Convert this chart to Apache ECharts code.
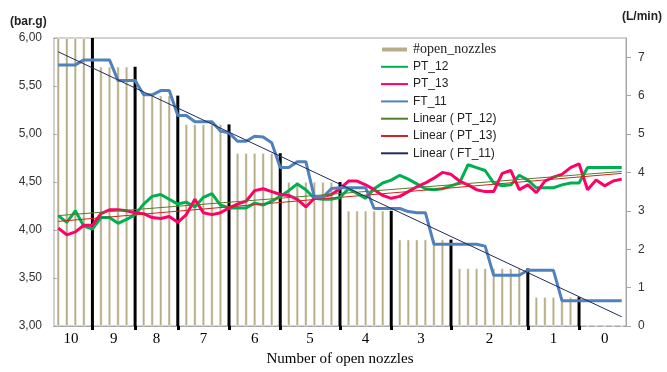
<!DOCTYPE html>
<html>
<head>
<meta charset="utf-8">
<script src="https://cdn.jsdelivr.net/npm/echarts@6/dist/echarts.min.js"></script>
<style>
  html, body { margin: 0; padding: 0; background: #fff; }
  #chart { width: 667px; height: 372px; }
</style>
</head>
<body>
<div id="chart"></div>
<script>
// number of open nozzles per sample (last sample of a run = separator line)
var nozzles = [10,10,10,10,10, 9,9,9,9,9, 8,8,8,8,8, 7,7,7,7,7,7, 6,6,6,6,6,6,
  5,5,5,5,5,5,5, 4,4,4,4,4,4, 3,3,3,3,3,3,3, 2,2,2,2,2,2,2,2,2, 1,1,1,1,1,1, 0,0,0,0,0];

// pressures (bar.g)
var pt12 = [4.15,4.08,4.20,4.04,4.01,4.13,4.13,4.07,4.11,4.16,
  4.27,4.35,4.37,4.32,4.27,4.29,4.24,4.34,4.38,4.26,
  4.23,4.23,4.23,4.28,4.26,4.30,4.35,4.41,4.48,4.42,
  4.33,4.32,4.32,4.34,4.43,4.38,4.33,4.43,4.49,4.52,
  4.57,4.53,4.48,4.43,4.42,4.43,4.46,4.49,4.68,4.65,
  4.62,4.49,4.46,4.47,4.57,4.52,4.44,4.44,4.44,4.47,
  4.49,4.49,4.65,4.65,4.65,4.65,4.65];
var pt13 = [4.02,3.95,3.98,4.05,4.05,4.17,4.21,4.21,4.20,4.18,
  4.17,4.13,4.12,4.14,4.08,4.16,4.32,4.18,4.16,4.18,
  4.23,4.27,4.30,4.41,4.43,4.40,4.37,4.36,4.32,4.24,
  4.33,4.35,4.37,4.43,4.51,4.51,4.47,4.42,4.36,4.33,
  4.35,4.40,4.45,4.49,4.54,4.60,4.58,4.51,4.47,4.42,
  4.40,4.40,4.59,4.62,4.42,4.47,4.39,4.51,4.55,4.58,
  4.65,4.69,4.42,4.52,4.46,4.51,4.53];
// flow (L/min)
var ft11 = [6.80,6.80,6.80,6.93,6.93,6.93,6.93,6.39,6.39,6.39,
  6.02,6.02,6.13,6.13,5.48,5.48,5.32,5.32,5.32,5.08,
  5.03,4.81,4.81,4.94,4.92,4.77,4.13,4.13,4.28,4.28,
  3.35,3.35,3.58,3.60,3.60,3.60,3.60,3.06,3.06,3.06,
  3.06,2.98,2.95,2.95,2.13,2.13,2.13,2.13,2.13,2.13,
  2.08,1.32,1.32,1.32,1.32,1.45,1.45,1.45,1.45,0.66,
  0.66,0.66,0.66,0.66,0.66,0.66,0.66];

// trend line ends (first / last sample)
var trendPt12 = [4.15, 4.61];
var trendPt13 = [4.09, 4.59];
var trendFt11 = [7.14, 0.24];

var groupLabels = ['10','9','8','7','6','5','4','3','2','1','0'];
var flowTicks = [0,1,2,3,4,5,6,7];

var last = nozzles.length - 1;
function isSep(i) { return i < last && nozzles[i + 1] !== nozzles[i]; }

var sepIdx = [];
nozzles.forEach(function (v, i) { if (isSep(i)) sepIdx.push(i); });

// centre of each run of plain bars -> where the group label goes
var labelPos = [];
var start = 0;
for (var i = 0; i <= last; i++) {
  if (isSep(i) || i === last) {
    var end = isSep(i) ? i - 1 : i;
    labelPos.push((start + end) / 2);
    start = i + 1;
  }
}

var plainBars = nozzles.map(function (v, i) { return isSep(i) ? '-' : v; });
var sepBars = nozzles.map(function (v, i) { return isSep(i) ? v : '-'; });

function trend(ends) { return [[0, ends[0]], [last, ends[1]]]; }

var sans = 'Liberation Sans';
var serif = 'Liberation Serif';
var noDot = { opacity: 0 };

var chart = echarts.init(document.getElementById('chart'));
chart.setOption({
  animation: false,
  grid: { left: 54, right: 41, top: 38, bottom: 40, show: true, borderColor: '#a6a6a6', borderWidth: 1 },
  legend: {
    orient: 'vertical',
    left: 380,
    top: 41,
    padding: 0,
    itemWidth: 27,
    itemHeight: 6,
    itemGap: 0.3,
    textStyle: { fontFamily: sans, fontSize: 12, color: '#222', lineHeight: 17 },
    data: [
      { name: '#open_nozzles', textStyle: { fontFamily: serif, fontSize: 14 } },
      { name: 'PT_12', itemStyle: noDot },
      { name: 'PT_13', itemStyle: noDot },
      { name: 'FT_11', itemStyle: noDot },
      { name: 'Linear ( PT_12)', itemStyle: noDot },
      { name: 'Linear ( PT_13)', itemStyle: noDot },
      { name: 'Linear ( FT_11)', itemStyle: noDot }
    ]
  },
  graphic: [
    { type: 'text', left: 10, top: 16, style: { text: '(bar.g)', font: 'bold 12px ' + sans, fill: '#222' } },
    { type: 'text', left: 622, top: 11, style: { text: '(L/min)', font: 'bold 12px ' + sans, fill: '#222' } }
  ],
  xAxis: [
    {
      type: 'category',
      data: nozzles.map(function (v, i) { return String(i); }),
      boundaryGap: true,
      axisLine: { lineStyle: { color: '#a6a6a6' } },
      axisTick: { show: false },
      axisLabel: { show: false },
      splitLine: { show: false }
    },
    {
      type: 'value',
      position: 'bottom',
      min: -0.5,
      max: last + 0.5,
      axisLine: { show: false },
      splitLine: { show: false },
      axisTick: { show: true, customValues: sepIdx, length: 4, lineStyle: { color: '#000', width: 3 } },
      axisLabel: {
        customValues: labelPos,
        margin: 6,
        fontFamily: serif,
        fontSize: 15,
        color: '#000',
        formatter: function (v) {
          for (var k = 0; k < labelPos.length; k++) {
            if (Math.abs(labelPos[k] - v) < 0.01) return groupLabels[k];
          }
          return '';
        }
      },
      name: 'Number of open nozzles',
      nameLocation: 'middle',
      nameGap: 26,
      nameTextStyle: { fontFamily: serif, fontSize: 15, color: '#000' }
    }
  ],
  yAxis: [
    {
      type: 'value',
      min: 3, max: 6, interval: 0.5,
      axisLine: { show: true, lineStyle: { color: '#a6a6a6' } },
      axisTick: { show: true, length: 5, lineStyle: { color: '#a6a6a6' } },
      splitLine: { show: false },
      axisLabel: {
        margin: 12, fontFamily: sans, fontSize: 12, color: '#333',
        formatter: function (v) { return v.toFixed(2).replace('.', ','); }
      }
    },
    {
      type: 'value',
      position: 'right',
      min: 0, max: 7.5,
      axisLine: { show: true, lineStyle: { color: '#a6a6a6' } },
      axisTick: { show: true, customValues: flowTicks, length: 5, lineStyle: { color: '#a6a6a6' } },
      splitLine: { show: false },
      axisLabel: { customValues: flowTicks, margin: 12, fontFamily: sans, fontSize: 12, color: '#333' }
    },
    { type: 'value', min: 0, max: 10, show: false }
  ],
  series: [
    {
      name: '#open_nozzles', type: 'bar', yAxisIndex: 2, barWidth: 3, barGap: '-100%',
      itemStyle: { color: '#b8ad89', borderColor: '#fff', borderWidth: 0.5 }, data: plainBars
    },
    {
      name: 'separator', type: 'bar', yAxisIndex: 2, barWidth: 3, barGap: '-100%',
      itemStyle: { color: '#000' }, data: sepBars
    },
    {
      name: 'PT_12', type: 'line', yAxisIndex: 0, symbol: 'none',
      lineStyle: { color: '#00b050', width: 3 }, itemStyle: { color: '#00b050' }, data: pt12
    },
    {
      name: 'PT_13', type: 'line', yAxisIndex: 0, symbol: 'none',
      lineStyle: { color: '#ff0066', width: 3 }, itemStyle: { color: '#ff0066' }, data: pt13
    },
    {
      name: 'FT_11', type: 'line', yAxisIndex: 1, symbol: 'none',
      lineStyle: { color: '#4f81bd', width: 3 }, itemStyle: { color: '#4f81bd' }, data: ft11
    },
    {
      name: 'Linear ( PT_12)', type: 'line', yAxisIndex: 0, symbol: 'none',
      lineStyle: { color: '#4f7f2a', width: 1 }, itemStyle: { color: '#4f7f2a' }, data: trend(trendPt12)
    },
    {
      name: 'Linear ( PT_13)', type: 'line', yAxisIndex: 0, symbol: 'none',
      lineStyle: { color: '#d42020', width: 1 }, itemStyle: { color: '#d42020' }, data: trend(trendPt13)
    },
    {
      name: 'Linear ( FT_11)', type: 'line', yAxisIndex: 1, symbol: 'none',
      lineStyle: { color: '#1f2a5e', width: 1 }, itemStyle: { color: '#1f2a5e' }, data: trend(trendFt11)
    }
  ]
});
</script>
</body>
</html>
